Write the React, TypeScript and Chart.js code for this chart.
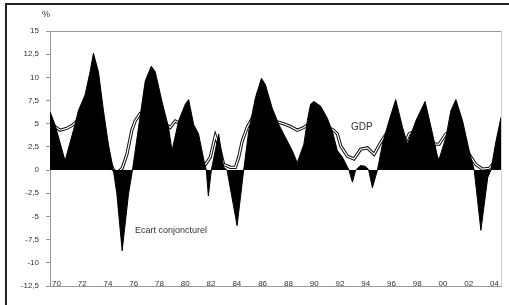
import React, { useEffect, useRef } from 'react';
import { Chart, registerables } from 'chart.js';

Chart.register(...registerables);

// Output gap (filled black area)
const gapYears = [1970.0, 1970.39, 1971.17, 1971.94, 1972.2, 1972.72, 1973.11, 1973.37, 1973.76, 1974.15, 1974.53, 1974.92, 1975.19, 1975.6, 1976.09, 1976.4, 1976.87, 1977.39, 1977.86, 1978.17, 1978.69, 1979.2, 1979.47, 1979.98, 1980.5, 1980.76, 1981.15, 1981.53, 1981.98, 1982.13, 1982.29, 1982.52, 1982.97, 1983.09, 1983.48, 1983.74, 1984.52, 1985.03, 1985.42, 1985.94, 1986.41, 1986.72, 1987.24, 1987.76, 1988.28, 1988.8, 1989.19, 1989.7, 1989.97, 1990.22, 1990.48, 1991.0, 1991.52, 1991.91, 1992.3, 1992.69, 1993.2, 1993.47, 1993.72, 1994.11, 1994.5, 1994.73, 1995.02, 1995.41, 1995.8, 1996.31, 1996.83, 1997.36, 1997.74, 1998.39, 1999.11, 1999.69, 2000.08, 2000.2, 2000.72, 2001.11, 2001.5, 2002.02, 2002.53, 2002.92, 2003.44, 2003.97, 2004.22, 2004.61, 2005.0];
const gapValues = [6.3, 4.9, 1.0, 4.9, 6.4, 8.1, 10.6, 12.6, 10.6, 6.4, 2.8, 0, -2.6, -8.7, -2.6, 0, 4.6, 9.6, 11.2, 10.6, 7.4, 4.6, 2.1, 5.3, 7.1, 7.6, 4.9, 3.9, 0.8, 0, -2.8, 0, 3.1, 3.9, 0.3, 0, -6.0, 0, 4.2, 7.8, 9.9, 9.2, 6.7, 4.9, 3.5, 2.1, 0.8, 2.8, 5.3, 7.1, 7.4, 6.9, 5.6, 4.2, 2.1, 1.4, 0, -1.3, 0, 0.5, 0.4, 0, -1.9, 0, 2.8, 5.3, 7.6, 4.6, 2.8, 5.3, 7.4, 3.9, 1.4, 1.2, 3.5, 6.4, 7.6, 5.3, 2.1, 0, -6.5, -0.8, 0, 3.1, 5.7];

// GDP growth (hollow line)
const gdpYears = [1970.0, 1970.16, 1970.78, 1971.3, 1971.81, 1972.08, 1972.72, 1973.5, 1974.12, 1974.67, 1974.92, 1975.21, 1975.6, 1975.97, 1976.35, 1976.61, 1977.0, 1977.78, 1978.56, 1978.95, 1979.33, 1979.72, 1980.11, 1980.66, 1981.28, 1981.74, 1982.06, 1982.44, 1982.83, 1983.22, 1983.48, 1984.0, 1984.39, 1984.65, 1984.91, 1985.3, 1985.69, 1986.33, 1986.95, 1987.63, 1988.12, 1988.67, 1989.19, 1989.7, 1990.09, 1990.84, 1991.47, 1991.91, 1992.3, 1992.56, 1993.08, 1993.59, 1994.11, 1994.63, 1995.15, 1995.67, 1996.19, 1996.83, 1997.3, 1997.61, 1997.87, 1998.13, 1998.78, 1999.4, 1999.81, 2000.2, 2000.72, 2001.27, 2001.89, 2002.53, 2003.05, 2003.57, 2004.09, 2004.35, 2005.0];
const gdpValues = [5.3, 4.9, 4.3, 4.5, 4.9, 5.3, 6.0, 6.5, 4.0, 0.8, 0.0, -0.3, 0.2, 1.7, 4.3, 5.3, 6.1, 5.8, 5.3, 5.0, 4.6, 5.3, 5.0, 4.3, 3.0, 1.0, 0.6, 1.4, 3.7, 2.1, 0.6, 0.3, 0.3, 1.4, 3.1, 4.6, 5.6, 5.5, 5.2, 5.2, 5.0, 4.7, 4.3, 4.6, 5.0, 5.0, 4.6, 4.4, 3.9, 2.6, 1.5, 1.2, 2.25, 2.4, 1.7, 3.0, 4.1, 4.2, 3.5, 3.1, 3.9, 4.1, 4.0, 3.6, 2.8, 2.8, 3.9, 4.0, 3.2, 1.7, 0.6, 0.1, 0.2, 0.6, 2.5];

const xTickLabels = ['70', '72', '74', '76', '78', '80', '82', '84', '86', '88', '90', '92', '94', '96', '98', '00', '02', '04'];
const xTickFirstYear = 1970.5;
const yMin = -12.5;
const yMax = 15;
const yStep = 2.5;

const unitLabel = '%';
const gapLabel = 'Ecart conjoncturel';
const gapLabelAt = [1976.6, -6.5];
const gdpLabel = 'GDP';
const gdpLabelAt = [1994.2, 4.6];

const FONT = '"Liberation Sans", "DejaVu Sans", sans-serif';

const decor = {
  id: 'decor',
  afterDatasetsDraw(chart: any) {
    const { ctx, chartArea, scales } = chart;
    const x = scales.x;
    const y = scales.y;
    ctx.save();
    ctx.fillStyle = '#333';
    ctx.font = `9px ${FONT}`;
    ctx.textAlign = 'left';
    ctx.textBaseline = 'middle';
    ctx.fillText(gapLabel, x.getPixelForValue(gapLabelAt[0]), y.getPixelForValue(gapLabelAt[1]));
    ctx.font = `10px ${FONT}`;
    ctx.textAlign = 'center';
    ctx.fillText(gdpLabel, x.getPixelForValue(gdpLabelAt[0]), y.getPixelForValue(gdpLabelAt[1]));
    ctx.font = `9px ${FONT}`;
    ctx.fillText(unitLabel, chartArea.left - 4, chartArea.top - 16);
    // right edge of plot
    ctx.strokeStyle = '#cfcfcf';
    ctx.lineWidth = 1;
    ctx.beginPath();
    ctx.moveTo(chartArea.right + 0.5, chartArea.top);
    ctx.lineTo(chartArea.right + 0.5, chartArea.bottom);
    ctx.stroke();
    ctx.restore();
  },
  afterDraw(chart: any) {
    const { ctx, width, height } = chart;
    ctx.save();
    ctx.fillStyle = '#222';
    ctx.fillRect(5, 3, width - 5, 2);
    ctx.fillRect(5, 3, 2, height - 3);
    ctx.restore();
  },
};

export default function App() {
  const canvasRef = useRef<HTMLCanvasElement | null>(null);

  useEffect(() => {
    const canvas = canvasRef.current;
    if (!canvas) return;
    const chart = new Chart(canvas, {
      type: 'line',
      data: {
        datasets: [
          {
            label: 'Output gap',
            data: gapYears.map((yr, i) => ({ x: yr, y: gapValues[i] })),
            borderColor: '#000',
            backgroundColor: '#000',
            borderWidth: 1,
            fill: 'origin',
            pointRadius: 0,
            tension: 0,
            order: 0,
          },
          {
            label: 'GDP inner',
            data: gdpYears.map((yr, i) => ({ x: yr, y: gdpValues[i] })),
            borderColor: '#fff',
            borderWidth: 1.2,
            fill: false,
            pointRadius: 0,
            tension: 0,
            order: 1,
          },
          {
            label: 'GDP outline',
            data: gdpYears.map((yr, i) => ({ x: yr, y: gdpValues[i] })),
            borderColor: '#111',
            borderWidth: 3.2,
            fill: false,
            pointRadius: 0,
            tension: 0,
            order: 2,
          },
        ],
      },
      options: {
        responsive: false,
        animation: false,
        devicePixelRatio: 1,
        layout: { padding: { left: 6, top: 31, right: 8, bottom: 19 } },
        plugins: { legend: { display: false }, tooltip: { enabled: false } },
        scales: {
          x: {
            type: 'linear',
            min: 1970,
            max: 2005,
            afterBuildTicks: (s: any) => {
              s.ticks = xTickLabels.map((_, i) => ({ value: xTickFirstYear + 2 * i }));
            },
            afterFit: (s: any) => {
              s.height = 0;
            },
            ticks: {
              autoSkip: false,
              maxRotation: 0,
              mirror: true,
              padding: -3,
              color: '#333',
              font: { family: FONT, size: 8 },
              callback: (_v: any, i: number) => xTickLabels[i],
            },
            grid: { display: false, drawTicks: false },
            border: { display: true, color: '#999' },
          },
          y: {
            min: yMin,
            max: yMax,
            afterFit: (s: any) => {
              s.width = 44;
            },
            ticks: {
              stepSize: yStep,
              autoSkip: false,
              padding: 7,
              color: '#333',
              font: { family: FONT, size: 8 },
              callback: (v: any) => String(v).replace('.', ','),
            },
            grid: {
              color: (c: any) => (c.tick && c.tick.value === yMax ? '#999' : 'rgba(0,0,0,0)'),
              tickColor: '#999',
              tickLength: 4,
              drawTicks: true,
            },
            border: { display: true, color: '#999' },
          },
        },
      },
      plugins: [decor],
    });
    return () => chart.destroy();
  }, []);

  return (
    <div style={{ position: 'fixed', left: 0, top: 0, width: 509, height: 305, background: '#fff' }}>
      <canvas ref={canvasRef} width={509} height={305} style={{ display: 'block' }} />
    </div>
  );
}
